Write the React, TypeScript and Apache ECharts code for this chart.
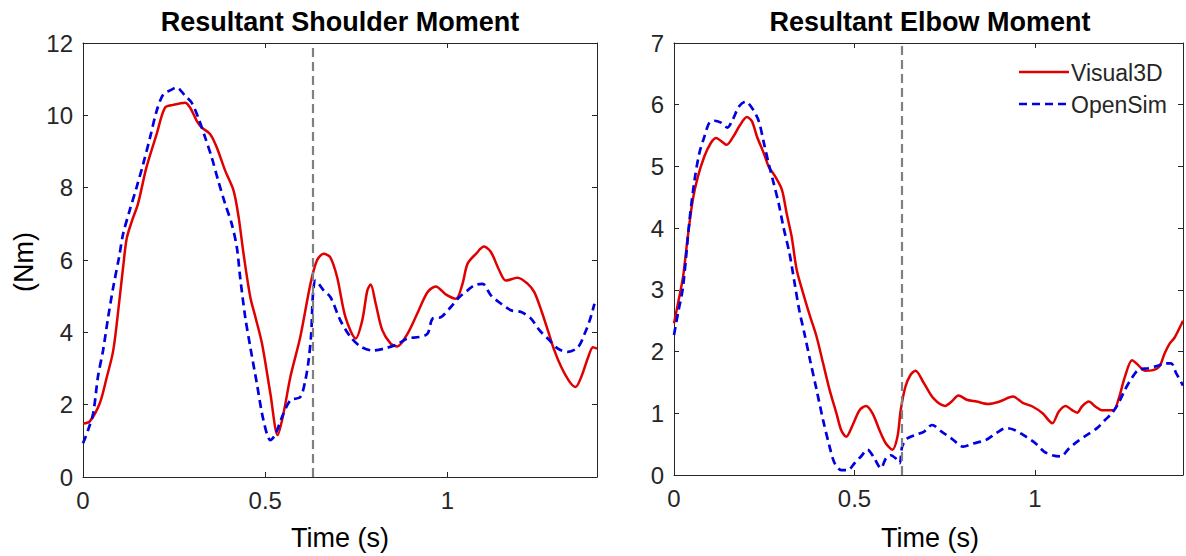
import React, { useEffect, useRef } from "react";
import * as echarts from "echarts";

// Time (s) / moment (Nm) samples for each curve
const shoulderVisual3D: [number, number][] = [
  [0, 1.48], [0.018, 1.53], [0.046, 2.04], [0.065, 2.75], [0.083, 3.5], [0.1, 4.9],
  [0.11, 5.8], [0.12, 6.6], [0.135, 7.1], [0.151, 7.56], [0.174, 8.56], [0.202, 9.48],
  [0.225, 10.21], [0.248, 10.29], [0.28, 10.35], [0.294, 10.21], [0.312, 9.85], [0.326, 9.66],
  [0.349, 9.48], [0.367, 9.11], [0.39, 8.47], [0.413, 7.92], [0.427, 7.18], [0.44, 6.2],
  [0.459, 4.97], [0.473, 4.42], [0.491, 3.69], [0.514, 2.31], [0.534, 1.16], [0.55, 1.76],
  [0.569, 2.77], [0.596, 3.87], [0.624, 5.34], [0.642, 5.99], [0.66, 6.17], [0.678, 6.08],
  [0.697, 5.53], [0.72, 4.42], [0.748, 3.83], [0.766, 4.33], [0.78, 5.16], [0.789, 5.32],
  [0.803, 4.79], [0.821, 4.06], [0.844, 3.69], [0.862, 3.61], [0.89, 3.96], [0.917, 4.52],
  [0.945, 5.11], [0.968, 5.27], [0.995, 5.05], [1.023, 4.93], [1.041, 5.34], [1.055, 5.9],
  [1.078, 6.17], [1.1, 6.37], [1.119, 6.22], [1.142, 5.71], [1.16, 5.43], [1.192, 5.51],
  [1.22, 5.34], [1.238, 5.11], [1.257, 4.61], [1.275, 4.06], [1.293, 3.5], [1.312, 3.04],
  [1.335, 2.63], [1.351, 2.49], [1.367, 2.77], [1.386, 3.32], [1.399, 3.59], [1.41, 3.55],
];

const shoulderOpenSim: [number, number][] = [
  [0, 0.93], [0.014, 1.3], [0.028, 1.76], [0.041, 2.77], [0.055, 3.5], [0.069, 4.42],
  [0.083, 5.25], [0.099, 6.08], [0.11, 6.72], [0.128, 7.37], [0.147, 8.01], [0.165, 8.65],
  [0.184, 9.39], [0.202, 10.12], [0.22, 10.58], [0.239, 10.69], [0.257, 10.77], [0.28, 10.54],
  [0.298, 10.35], [0.316, 9.94], [0.335, 9.39], [0.353, 8.84], [0.371, 8.19], [0.39, 7.55],
  [0.408, 7.0], [0.422, 6.35], [0.431, 5.53], [0.445, 4.42], [0.459, 3.59], [0.477, 2.58],
  [0.495, 1.57], [0.514, 1.02], [0.527, 1.16], [0.546, 1.66], [0.569, 2.12], [0.596, 2.21],
  [0.61, 2.68], [0.619, 3.23], [0.626, 3.96], [0.631, 5.07], [0.638, 5.43], [0.66, 5.16],
  [0.679, 4.97], [0.706, 4.33], [0.734, 3.87], [0.761, 3.61], [0.794, 3.5], [0.826, 3.55],
  [0.862, 3.67], [0.89, 3.83], [0.922, 3.87], [0.945, 3.96], [0.959, 4.38], [0.982, 4.42],
  [1.009, 4.7], [1.032, 4.97], [1.055, 5.16], [1.073, 5.3], [1.096, 5.34], [1.119, 5.02],
  [1.147, 4.79], [1.174, 4.61], [1.202, 4.56], [1.229, 4.38], [1.252, 4.06], [1.275, 3.83],
  [1.303, 3.55], [1.33, 3.46], [1.358, 3.59], [1.376, 3.96], [1.39, 4.33], [1.403, 4.79],
];

const elbowVisual3D: [number, number][] = [
  [0, 2.46], [0.011, 2.78], [0.025, 3.21], [0.038, 3.85], [0.052, 4.46], [0.066, 4.83],
  [0.084, 5.16], [0.102, 5.38], [0.117, 5.46], [0.133, 5.4], [0.146, 5.35], [0.164, 5.48],
  [0.183, 5.67], [0.202, 5.8], [0.216, 5.73], [0.23, 5.48], [0.249, 5.21], [0.262, 5.0],
  [0.281, 4.83], [0.299, 4.62], [0.312, 4.24], [0.326, 3.86], [0.34, 3.32], [0.358, 2.94],
  [0.377, 2.57], [0.395, 2.24], [0.413, 1.81], [0.431, 1.38], [0.45, 1.0], [0.463, 0.73],
  [0.477, 0.62], [0.495, 0.81], [0.514, 1.05], [0.532, 1.12], [0.55, 1.0], [0.569, 0.73],
  [0.587, 0.51], [0.605, 0.41], [0.619, 0.62], [0.628, 1.05], [0.641, 1.43], [0.655, 1.62],
  [0.669, 1.69], [0.692, 1.49], [0.719, 1.24], [0.751, 1.12], [0.769, 1.19], [0.788, 1.29],
  [0.811, 1.22], [0.838, 1.19], [0.87, 1.15], [0.902, 1.19], [0.939, 1.27], [0.966, 1.17],
  [0.993, 1.11], [1.021, 1.0], [1.048, 0.84], [1.066, 1.03], [1.085, 1.12], [1.103, 1.05],
  [1.117, 1.01], [1.13, 1.11], [1.149, 1.19], [1.167, 1.11], [1.185, 1.05], [1.217, 1.05],
  [1.231, 1.22], [1.249, 1.59], [1.269, 1.86], [1.286, 1.78], [1.304, 1.69], [1.327, 1.7],
  [1.345, 1.76], [1.359, 1.97], [1.373, 2.13], [1.386, 2.22], [1.41, 2.5],
];

const elbowOpenSim: [number, number][] = [
  [0, 2.27], [0.011, 2.62], [0.025, 3.05], [0.043, 4.13], [0.057, 4.78], [0.07, 5.21],
  [0.084, 5.48], [0.098, 5.71], [0.112, 5.74], [0.13, 5.71], [0.148, 5.63], [0.162, 5.75],
  [0.18, 5.97], [0.198, 6.05], [0.217, 5.94], [0.235, 5.73], [0.249, 5.38], [0.262, 5.05],
  [0.276, 4.73], [0.29, 4.4], [0.303, 4.02], [0.32, 3.59], [0.334, 3.11], [0.347, 2.67],
  [0.361, 2.3], [0.377, 1.86], [0.395, 1.38], [0.413, 0.89], [0.431, 0.46], [0.445, 0.19],
  [0.463, 0.08], [0.482, 0.08], [0.5, 0.19], [0.518, 0.3], [0.536, 0.41], [0.555, 0.27],
  [0.573, 0.11], [0.587, 0.27], [0.6, 0.32], [0.614, 0.27], [0.625, 0.19], [0.632, 0.46],
  [0.646, 0.59], [0.669, 0.65], [0.692, 0.7], [0.715, 0.81], [0.742, 0.7], [0.769, 0.59],
  [0.801, 0.46], [0.829, 0.51], [0.865, 0.57], [0.893, 0.68], [0.92, 0.76], [0.943, 0.73],
  [0.975, 0.62], [1.002, 0.51], [1.025, 0.38], [1.048, 0.32], [1.071, 0.3], [1.094, 0.43],
  [1.117, 0.54], [1.144, 0.65], [1.172, 0.76], [1.194, 0.89], [1.213, 1.0], [1.231, 1.16],
  [1.249, 1.38], [1.268, 1.57], [1.286, 1.7], [1.313, 1.73], [1.34, 1.77], [1.359, 1.81],
  [1.377, 1.81], [1.391, 1.65], [1.41, 1.45],
];

const panelTitles = ["Resultant Shoulder Moment", "Resultant Elbow Moment"];
const seriesNames = ["Visual3D", "OpenSim"];
const timeLimit = 1.41;
const yLimits = [12, 7];
const yIntervals = [2, 1];
const eventTime = 0.63;

const FONT = "'Liberation Sans', Arial, Helvetica, sans-serif";
const AXIS_COLOR = "#262626";
const RED = "#e00000";
const BLUE = "#0000e0";

export default function App() {
  const ref = useRef<HTMLDivElement>(null);

  useEffect(() => {
    if (!ref.current) return;
    const chart = echarts.init(ref.current, null, { renderer: "svg" });

    const grids = [
      { left: 83, top: 43, width: 514, height: 434 },
      { left: 674, top: 43, width: 512, height: 432 },
    ];

    const xLabel = (v: number) => (Math.abs(v * 2 - Math.round(v * 2)) < 1e-9 ? String(v) : "");

    const xAxes: any[] = [];
    const yAxes: any[] = [];
    grids.forEach((_, i) => {
      const common = {
        gridIndex: i,
        type: "value",
        axisLine: { show: true, onZero: false, lineStyle: { color: AXIS_COLOR, width: 1 } },
        axisTick: { show: true, inside: true, length: 5, lineStyle: { color: AXIS_COLOR, width: 1 } },
        splitLine: { show: false },
      };
      xAxes.push({
        ...common,
        position: "bottom",
        min: 0,
        max: timeLimit,
        interval: 0.5,
        axisLabel: { show: true, color: AXIS_COLOR, fontSize: 24, fontFamily: FONT, margin: 11, formatter: xLabel },
      });
      xAxes.push({
        ...common,
        position: "top",
        min: 0,
        max: timeLimit,
        interval: 0.5,
        axisLabel: { show: false },
      });
      yAxes.push({
        ...common,
        position: "left",
        min: 0,
        max: yLimits[i],
        interval: yIntervals[i],
        axisLabel: { show: true, color: AXIS_COLOR, fontSize: 24, fontFamily: FONT, margin: 10 },
      });
      yAxes.push({
        ...common,
        position: "right",
        min: 0,
        max: yLimits[i],
        interval: yIntervals[i],
        axisLabel: { show: false },
      });
    });

    const panels = [
      [shoulderVisual3D, shoulderOpenSim],
      [elbowVisual3D, elbowOpenSim],
    ];

    const series: any[] = [];
    panels.forEach((pair, i) => {
      series.push({
        name: seriesNames[0] + i,
        type: "line",
        xAxisIndex: i * 2,
        yAxisIndex: i * 2,
        data: pair[0],
        smooth: 0.3,
        showSymbol: false,
        symbol: "none",
        lineStyle: { color: RED, width: 2.5 },
        z: 3,
        markLine: {
          silent: true,
          symbol: ["none", "none"],
          label: { show: false },
          lineStyle: { color: "#808080", width: 2.2, type: [9, 5] },
          data: [{ xAxis: eventTime }],
        },
      });
      series.push({
        name: seriesNames[1] + i,
        type: "line",
        xAxisIndex: i * 2,
        yAxisIndex: i * 2,
        data: pair[1],
        smooth: 0.3,
        showSymbol: false,
        symbol: "none",
        lineStyle: { color: BLUE, width: 2.7, type: [8, 5] },
        z: 4,
      });
    });

    const centers = grids.map((g) => g.left + g.width / 2);

    const graphic: any[] = [];
    panelTitles.forEach((t, i) => {
      graphic.push({
        type: "text",
        x: centers[i],
        y: 22,
        style: { text: t, fontSize: 27, fontWeight: "bold", fontFamily: FONT, fill: "#000", textAlign: "center", textVerticalAlign: "middle" },
      });
      graphic.push({
        type: "text",
        x: centers[i],
        y: 538,
        style: { text: "Time (s)", fontSize: 27, fontFamily: FONT, fill: "#000", textAlign: "center", textVerticalAlign: "middle" },
      });
    });
    graphic.push({
      type: "text",
      x: 24,
      y: 262,
      rotation: Math.PI / 2,
      style: { text: "(Nm)", fontSize: 27, fontFamily: FONT, fill: "#000", textAlign: "center", textVerticalAlign: "middle" },
    });

    // legend drawn inside the elbow panel
    const legendRows = [
      { text: seriesNames[0], color: RED, dash: null as any, y: 72 },
      { text: seriesNames[1], color: BLUE, dash: [8, 5], y: 104 },
    ];
    legendRows.forEach((r) => {
      graphic.push({
        type: "line",
        shape: { x1: 1019, y1: r.y, x2: 1069, y2: r.y },
        style: { stroke: r.color, lineWidth: 2.6, lineDash: r.dash },
      });
      graphic.push({
        type: "text",
        x: 1071,
        y: r.y + 1,
        style: { text: r.text, fontSize: 23, fontFamily: FONT, fill: AXIS_COLOR, textAlign: "left", textVerticalAlign: "middle" },
      });
    });

    chart.setOption({
      animation: false,
      backgroundColor: "#ffffff",
      grid: grids,
      xAxis: xAxes,
      yAxis: yAxes,
      series,
      graphic,
    });

    return () => chart.dispose();
  }, []);

  return (
    <div
      ref={ref}
      style={{ position: "fixed", left: 0, top: 0, width: 1186, height: 556, background: "#fff" }}
    />
  );
}
